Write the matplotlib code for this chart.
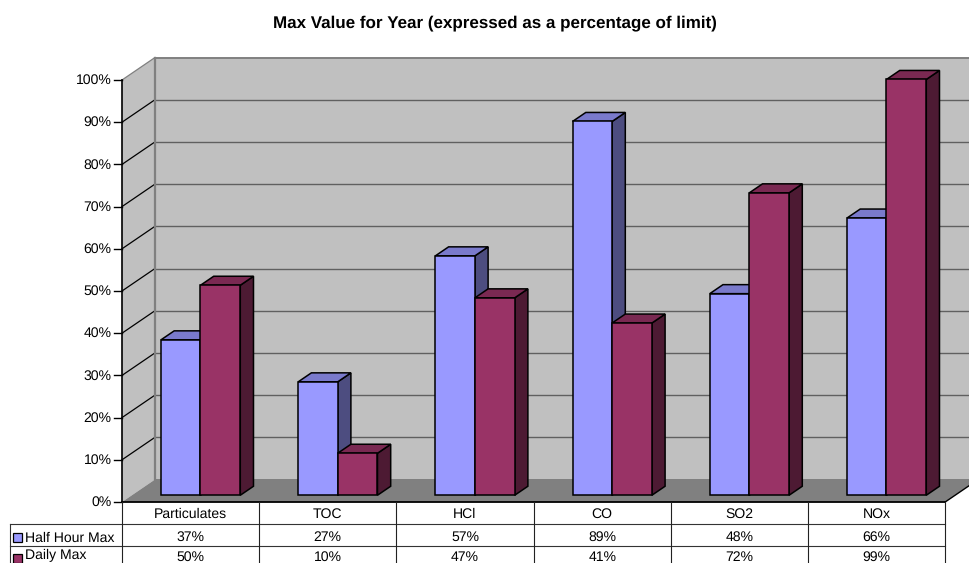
import matplotlib
matplotlib.use("Agg")
import matplotlib.pyplot as plt
from matplotlib.patches import Polygon, Rectangle

plt.rcParams['font.family'] = ['Liberation Sans', 'DejaVu Sans']
plt.rcParams['text.hinting'] = 'none'
plt.rcParams['text.hinting_factor'] = 1

categories = ['Particulates', 'TOC', 'HCl', 'CO', 'SO2', 'NOx']
half_hour_max = [37, 27, 57, 89, 48, 66]
daily_max = [50, 10, 47, 41, 72, 99]
y_ticks = [0, 10, 20, 30, 40, 50, 60, 70, 80, 90, 100]

# oblique projection, all in pixels of the 969x563 canvas
X0, Y0 = 122.0, 502.0
CAT_W = 137.2
Y_SCALE = 4.22
BAR_SCALE = 4.2
DEPTH_X, DEPTH_Y = 33.0, 22.5


def project(cat, val, depth, scale=Y_SCALE):
    return (X0 + cat * CAT_W + depth * DEPTH_X, Y0 - val * scale - depth * DEPTH_Y)


def draw_bar(ax, left, right, val, colors):
    front_d, back_d = 0.3, 0.7
    p = lambda c, v, d: project(c, v, d, BAR_SCALE)
    front = [p(left, 0, front_d), p(right, 0, front_d), p(right, val, front_d), p(left, val, front_d)]
    side = [p(right, 0, front_d), p(right, 0, back_d), p(right, val, back_d), p(right, val, front_d)]
    top = [p(left, val, front_d), p(right, val, front_d), p(right, val, back_d), p(left, val, back_d)]
    for pts, col in zip((side, top, front), colors):
        ax.add_patch(Polygon(pts, closed=True, fc=col, ec='black', lw=1.1, joinstyle='miter', zorder=3))


fig = plt.figure(figsize=(9.69, 5.63), dpi=100)
ax = fig.add_axes([0, 0, 1, 1])
ax.set_xlim(0, 969)
ax.set_ylim(563, 0)
ax.axis('off')

ax.text(494.5, 23, 'Max Value for Year (expressed as a percentage of limit)',
        ha='center', va='center', fontsize=12, fontweight='bold')

# walls and floor
back_r = len(categories)
ax.add_patch(Polygon([project(0, 0, 1), project(back_r, 0, 1), project(back_r, 100, 1), project(0, 100, 1)],
                     fc='#c0c0c0', ec='#808080', lw=1.4, zorder=1))
ax.add_patch(Polygon([project(0, 0, 0), project(0, 0, 1), project(0, 100, 1), project(0, 100, 0)],
                     fc='#c0c0c0', ec='none', zorder=1))
ax.add_patch(Polygon([project(0, 0, 0), project(0, 0, 1), project(back_r, 0, 1), project(back_r, 0, 0)],
                     fc='#808080', ec='none', zorder=1))

for t in y_ticks:
    if 0 < t < 100:
        x1, y1 = project(0, t, 1)
        x2, y2 = project(back_r, t, 1)
        ax.plot([x1, x2], [y1, y2], color='#606060', lw=1.0, zorder=2)
    x0, y0 = project(0, t, 0)
    x1, y1 = project(0, t, 1)
    edge = '#808080' if t == 100 else 'black'
    if t > 0:
        ax.plot([x0, x1], [y0, y1], color=edge, lw=0.9, zorder=2)
    ax.plot([x0 - 8, x0], [y0, y0], color='black', lw=1.0, zorder=2)
    ax.text(x0 - 10.5, y0 + 0.5, '%d%%' % t, ha='right', va='center', fontsize=10, zorder=5)

ax.plot(*zip(project(0, 0, 1), project(0, 100, 1)), color='#808080', lw=1.6, zorder=2)
ax.plot(*zip(project(0, 0, 0), project(0, 100, 0)), color='black', lw=1.2, zorder=2)
ax.plot(*zip(project(back_r, 0, 0), project(back_r, 0, 1)), color='black', lw=1.0, zorder=2)

# bars
half_colors = ('#4d4d80', '#7a7acc', '#9999ff')
daily_colors = ('#4d1a33', '#7a2952', '#993366')
for i in range(len(categories)):
    draw_bar(ax, i + 0.212, i + 0.5, half_hour_max[i], half_colors)
    draw_bar(ax, i + 0.5, i + 0.79, daily_max[i], daily_colors)

# data table
table_right = X0 + back_r * CAT_W
row_y = [502.0, 524.3, 545.7]
ax.plot([X0, table_right], [row_y[0], row_y[0]], color='black', lw=1.3, zorder=4)
for y in row_y[1:]:
    ax.plot([10, table_right], [y, y], color='#333333', lw=0.8, zorder=4)
ax.plot([10, 10], [row_y[1], 563], color='#333333', lw=0.8, zorder=4)
for i in range(len(categories) + 1):
    x = X0 + i * CAT_W
    ax.plot([x, x], [row_y[0], 563], color='#222222', lw=0.8, zorder=4)

for i, name in enumerate(categories):
    xc = X0 + (i + 0.5) * CAT_W
    ax.text(xc, 514.5, name, ha='center', va='center', fontsize=10)
    ax.text(xc, 537.5, '%d%%' % half_hour_max[i], ha='center', va='center', fontsize=10)
    ax.text(xc, 557, '%d%%' % daily_max[i], ha='center', va='center', fontsize=10)

ax.add_patch(Rectangle((13.5, 533), 8.5, 8.5, fc='#9999ff', ec='black', lw=0.9))
ax.add_patch(Rectangle((13.5, 554), 8.5, 8.5, fc='#993366', ec='black', lw=0.9))
ax.text(25.5, 538, 'Half Hour Max', ha='left', va='center', fontsize=10)
ax.text(25.5, 559.5, 'Daily Max', ha='left', va='baseline', fontsize=10)

fig.savefig('out.png', dpi=100)
